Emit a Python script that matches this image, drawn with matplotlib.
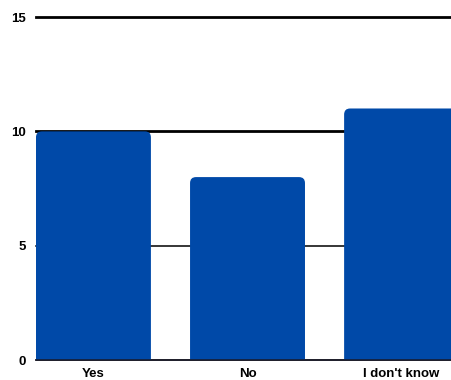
import matplotlib
matplotlib.use("Agg")
import matplotlib.pyplot as plt
from matplotlib.patches import FancyBboxPatch

# survey answers
answers = ["Yes", "No", "I don't know"]
counts = [10, 8, 11]
ticks = [0, 5, 10, 15]

bar_color = "#0049A8"
bar_width = 0.746

fig = plt.figure(figsize=(4.52, 3.8), dpi=100)
ax = fig.add_axes([0.0796, 0.0526, 0.936, 0.9026])

xs = list(range(len(answers)))
ax.set_xlim(-bar_width / 2, len(answers) - 1 + bar_width / 2)
ax.set_ylim(0, 15)

# grid lines, the upper ones a bit heavier
for t in ticks:
    lw = 2.0 if t >= 10 else 1.1
    ax.axhline(t, color="black", lw=lw, zorder=1, clip_on=False)

# bars with rounded tops (bottom corners pushed below the axis)
bars = ax.bar(xs, counts, width=bar_width, color="none")
px_x = ax.transData.transform((1, 0))[0] - ax.transData.transform((0, 0))[0]
px_y = ax.transData.transform((0, 1))[1] - ax.transData.transform((0, 0))[1]
for b in bars:
    x0 = b.get_x()
    h = b.get_height()
    patch = FancyBboxPatch(
        (x0, -1), b.get_width(), h + 1,
        boxstyle="round,pad=0,rounding_size=%f" % (6 / px_x),
        mutation_aspect=px_x / px_y,
        facecolor=bar_color, edgecolor="none", zorder=2,
    )
    ax.add_patch(patch)
    b.remove()

# baseline drawn over the bars
ax.axhline(0, color="#1a1a2a", lw=1.1, zorder=3, clip_on=False)

for s in ax.spines.values():
    s.set_visible(False)
ax.set_yticks(ticks)
ax.set_yticklabels([str(t) for t in ticks], fontweight="bold", fontsize=9.5)
ax.set_xticks(xs)
ax.set_xticklabels(answers, fontweight="bold", fontsize=9.5)
ax.tick_params(length=0)
ax.tick_params(axis="y", pad=7)
ax.tick_params(axis="x", pad=6)
for lbl in ax.get_xticklabels() + ax.get_yticklabels():
    lbl.set_family(["Liberation Sans", "DejaVu Sans"])

fig.savefig("out.png", dpi=100)
